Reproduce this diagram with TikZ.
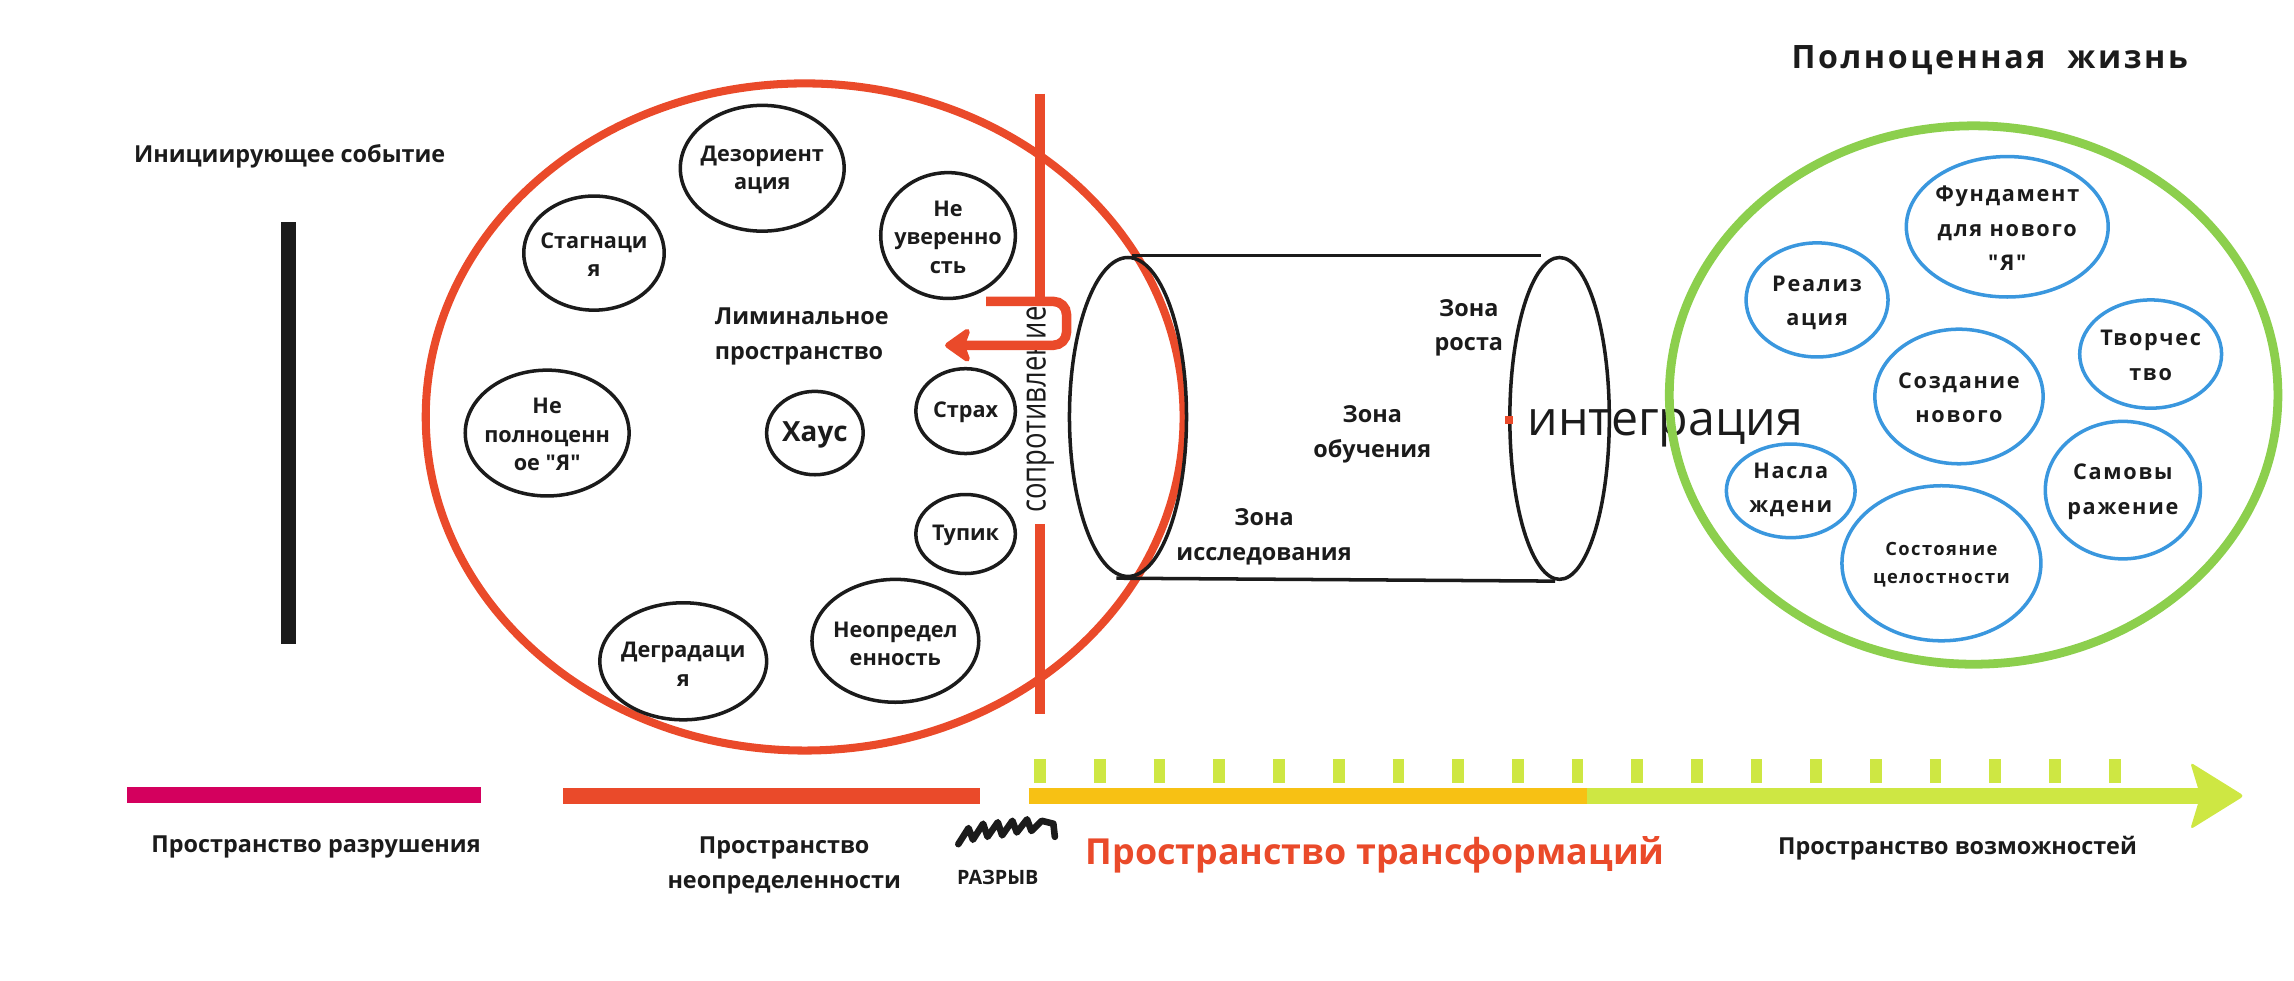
\documentclass[tikz,border=0pt]{standalone}
\usepackage{fontspec}
\setmainfont{Open Sans}[Ligatures=TeXOff]
\newfontfamily\widesans{Open Sans}[Ligatures=TeXOff,LetterSpace=8]
\usetikzlibrary{arrows.meta,shapes.geometric}
\definecolor{ink}{HTML}{1B1B1B}
\definecolor{redl}{HTML}{EA4A2A}
\definecolor{crimson}{HTML}{D4005E}
\definecolor{amber}{HTML}{F7C114}
\definecolor{lime}{HTML}{CEE743}
\definecolor{leaf}{HTML}{8CCF4D}
\definecolor{skyb}{HTML}{3A97DE}
\begin{document}
\begin{tikzpicture}[x=1pt,y=-1pt,
        bub/.style={draw=ink,line width=2.4pt},
        blub/.style={draw=skyb,line width=2.4pt},
        btxt/.style={text=ink,align=center,inner sep=0pt,font=\bfseries\fontsize{14.8}{19.5}\selectfont},
        gtxt/.style={text=ink,align=center,inner sep=0pt,font=\widesans\bfseries\fontsize{14.8}{23.5}\selectfont},
        lbl/.style={text=ink,align=center,inner sep=0pt,font=\bfseries\fontsize{16}{23.5}\selectfont},
        bar/.style={line width=10.5pt}]
        \useasboundingbox (0,0) rectangle (1568,670);
        \node[text=ink,inner sep=0pt,font=\widesans\bfseries\fontsize{22}{22}\selectfont] (life) at (1360,41) {Полноценная\ \ жизнь};
        \node[lbl] (init) at (198,107) {Инициирующее событие};
        \draw[ink,line width=10pt] (197,152) -- (197,440);
        \draw[redl,line width=5.5pt] (550,285) ellipse [x radius=259pt,y radius=228pt];
        \draw[bub] (521,115) ellipse [x radius=56pt,y radius=43pt];
        \node[btxt] (dez) at (521,116) {Дезориент\\ация};
        \draw[bub] (406,173) ellipse [x radius=48pt,y radius=39pt];
        \node[btxt] (stag) at (406,174) {Стагнаци\\я};
        \draw[bub] (648,161) ellipse [x radius=46pt,y radius=43pt];
        \node[btxt] (neuv) at (648,162) {Не\\уверенно\\сть};
        \draw[bub] (374,296) ellipse [x radius=56pt,y radius=43pt];
        \node[btxt] (nepol) at (374,297) {Не\\полноценн\\ое "Я"};
        \draw[bub] (557,296) ellipse [x radius=33pt,y radius=28.5pt];
        \node[btxt,font=\bfseries\fontsize{19}{19}\selectfont] (chaos) at (557,297) {Хаус};
        \draw[bub] (660,281) ellipse [x radius=34pt,y radius=29pt];
        \node[btxt] (fear) at (660,282) {Страх};
        \draw[bub] (660,365) ellipse [x radius=34pt,y radius=27pt];
        \node[btxt] (dead) at (660,366) {Тупик};
        \draw[bub] (467,452) ellipse [x radius=57pt,y radius=40pt];
        \node[btxt] (degr) at (467,454) {Деградаци\\я};
        \draw[bub] (612,438) ellipse [x radius=57pt,y radius=42pt];
        \node[btxt] (unc) at (612,440) {Неопредел\\енность};
        \node[lbl,align=left] (lim) at (548,230) {Лиминальное\\пространство};
        \node[ink,rotate=90,inner sep=0pt,font=\fontsize{24}{24}\selectfont] (resist) at (711,280) {\scalebox{0.78}[1]{сопротивление}};
        \draw[redl,line width=7pt] (711,64) -- (711,207);
        \draw[redl,line width=7pt] (711,358) -- (711,488);
        \draw[redl,line width=6.5pt,rounded corners=9pt,-{Stealth[length=20pt,width=28pt,inset=5pt,round]}] (674,206) -- (729,206) -- (729,236) -- (646,236);
        \node[draw=ink,line width=2.4pt,ellipse,minimum width=80pt,minimum height=218pt,inner sep=0pt] (cylin) at (771,285) {};
        \node[draw=ink,line width=2.4pt,ellipse,minimum width=68pt,minimum height=220pt,inner sep=0pt] (cylout) at (1066,286) {};
        \draw[ink,line width=2.4pt] ([xshift=3pt]cylin.north) -- ([xshift=-13pt]cylout.north);
        \draw[ink,line width=2.4pt] ([xshift=-8pt]cylin.south) -- ([xshift=-3pt]cylout.south);
        \node[lbl] (grow) at (1004,224) {Зона\\роста};
        \node[lbl] (learn) at (938,297) {Зона\\обучения};
        \node[lbl] (expl) at (864,367) {Зона\\исследования};
        \fill[redl] (1029,284) rectangle (1034,290);
        \node[ink,anchor=base west,inner sep=0pt,font=\fontsize{33}{33}\selectfont] (integ) at (1044,298) {интеграция};
        \draw[leaf,line width=6pt] (1349,270) ellipse [x radius=208pt,y radius=184pt];
        \draw[blub] (1372,155) ellipse [x radius=69pt,y radius=48pt];
        \node[gtxt] (fund) at (1372,156) {Фундамент\\для нового\\"Я"};
        \draw[blub] (1242,205) ellipse [x radius=48.5pt,y radius=39pt];
        \node[gtxt] (real) at (1242,207) {Реализ\\ация};
        \draw[blub] (1470,242) ellipse [x radius=48.5pt,y radius=37pt];
        \node[gtxt] (tvor) at (1470,243) {Творчес\\тво};
        \draw[blub] (1339,271) ellipse [x radius=57.5pt,y radius=46pt];
        \node[gtxt] (sozd) at (1339,272) {Создание\\нового};
        \draw[blub] (1224,335.5) ellipse [x radius=44pt,y radius=32pt];
        \node[gtxt] (nasl) at (1224,335) {Насла\\ждени};
        \draw[blub] (1451,335) ellipse [x radius=53pt,y radius=47pt];
        \node[gtxt] (samo) at (1451,336) {Самовы\\ражение};
        \draw[blub] (1327,385) ellipse [x radius=68pt,y radius=53pt];
        \node[gtxt,font=\widesans\bfseries\fontsize{12.5}{19.5}\selectfont] (sost) at (1327,386) {Состояние\\целостности};
        \draw[crimson,bar] (87,543.5) -- (329,543.5);
        \draw[redl,bar] (385,544) -- (670,544);
        \draw[amber,bar] (703,544) -- (1085,544);
        \draw[lime,bar] (1085,544) -- (1504,544);
        \fill[lime,rounded corners=2.5pt] (1497,521) -- (1534,544) -- (1497,567) -- (1504,544) -- cycle;
        \draw[lime,line width=16pt,dash pattern=on 8pt off 32.8pt] (707,527) -- (1450,527);
        \draw[ink,line width=4.5pt,line cap=round,line join=round] (655,577) -- (662,566) -- (665,574) -- (672,563) -- (675,572) -- (682,562) -- (685,571) -- (692,561) -- (695,569) -- (702,560) -- (705,568) -- (712,561) -- (720,563) -- (721,572);
        \node[lbl] (destr) at (216,579) {Пространство разрушения};
        \node[lbl] (uncsp) at (536,591.5) {Пространство\\неопределенности};
        \node[lbl,font=\bfseries\fontsize{13.5}{13.5}\selectfont] (gap) at (682,600) {РАЗРЫВ};
        \node[lbl,text=redl,font=\bfseries\fontsize{24.5}{24.5}\selectfont] (trans) at (940,584) {Пространство трансформаций};
        \node[lbl] (poss) at (1338,580) {Пространство возможностей};
    \end{tikzpicture}
\end{document}
